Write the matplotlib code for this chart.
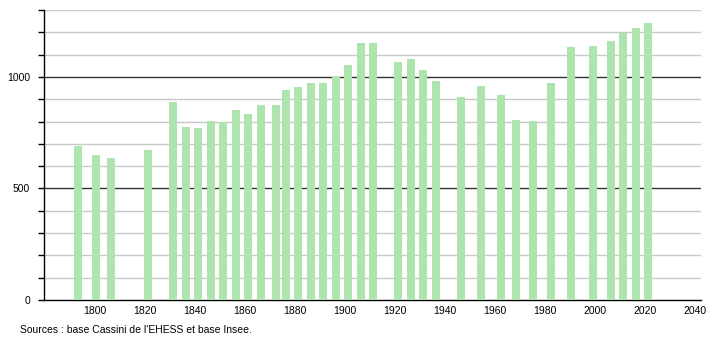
import numpy as np
import matplotlib
matplotlib.use("Agg")
import matplotlib.pyplot as plt
from matplotlib.ticker import MultipleLocator

# census years and population
years = [1793, 1800, 1806, 1821, 1831, 1836, 1841, 1846, 1851, 1856,
         1861, 1866, 1872, 1876, 1881, 1886, 1891, 1896, 1901, 1906,
         1911, 1921, 1926, 1931, 1936, 1946, 1954, 1962, 1968, 1975,
         1982, 1990, 1999, 2006, 2011, 2016, 2021]
population = [692, 650, 635, 673, 889, 776, 772, 803, 797, 852,
              834, 874, 874, 942, 954, 972, 972, 998, 1054, 1151,
              1154, 1066, 1079, 1031, 982, 909, 960, 919, 807, 803,
              972, 1136, 1139, 1161, 1196, 1221, 1241]

x_ticks = list(range(1800, 2041, 20))
source_text = "Sources : base Cassini de l'EHESS et base Insee."

plt.rcParams['font.family'] = ['Liberation Sans', 'DejaVu Sans']

fig = plt.figure(figsize=(7.1, 3.4), dpi=100)
ax = fig.add_axes([44 / 710, 40 / 340, 657 / 710, 290 / 340])

ax.bar(np.array(years) + 0.4, population, width=3.2, color='#aee4ae', zorder=3)

ax.set_xlim(1779.7, 2042.5)
ax.set_ylim(0, 1300)

# grid lines: light every 100, dark every 500
for v in range(100, 1301, 100):
    if v % 500 == 0:
        ax.axhline(v, color='#333333', lw=1.0, zorder=1)
    else:
        ax.axhline(v, color='#c8c8c8', lw=1.0, zorder=1)

ax.yaxis.set_major_locator(MultipleLocator(500))
ax.yaxis.set_minor_locator(MultipleLocator(100))
ax.set_xticks(x_ticks)
ax.tick_params(axis='y', which='both', direction='out', length=4, width=1,
               labelsize=7.5, pad=6)
ax.tick_params(axis='x', length=0, labelsize=7.5, pad=4)

for s in ['top', 'right']:
    ax.spines[s].set_visible(False)
ax.spines['left'].set_linewidth(1.0)
ax.spines['bottom'].set_linewidth(1.0)

fig.text(20 / 710, 1 - 330 / 340, source_text, fontsize=7.5, va='center', ha='left')

fig.savefig("out.png", dpi=100)
